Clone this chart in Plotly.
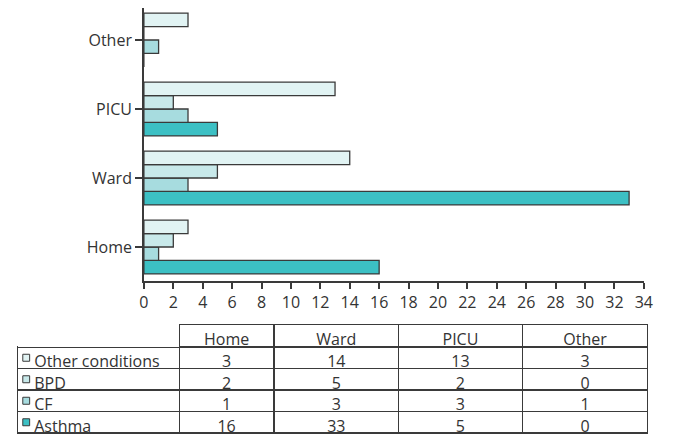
import plotly.graph_objects as go

locations = ["Home", "Ward", "PICU", "Other"]
series_names = ["Other conditions", "BPD", "CF", "Asthma"]
other_conditions = [3, 14, 13, 3]
bpd = [2, 5, 2, 0]
cf = [1, 3, 3, 1]
asthma = [16, 33, 5, 0]
x_ticks = list(range(0, 35, 2))

colors = {
    "Other conditions": "#e1f3f3",
    "BPD": "#c8e9ea",
    "CF": "#a7dcdf",
    "Asthma": "#3cc0c4",
}
values = {
    "Other conditions": other_conditions,
    "BPD": bpd,
    "CF": cf,
    "Asthma": asthma,
}

# page body has an 8px margin, so the figure is drawn at (8, 8)
W, H = 668, 428
FONT = "Open Sans"
FS = 16
INK = "#333333"
EDGE = "#3a3a3a"

fig = go.Figure()
# plotly stacks grouped horizontal bars bottom-up in trace order
for name in ["Asthma", "CF", "BPD", "Other conditions"]:
    fig.add_trace(go.Bar(
        y=locations, x=values[name], orientation="h", name=name,
        marker=dict(color=colors[name], line=dict(color=EDGE, width=1.3)),
        showlegend=False,
    ))

# table
tbl_left, tbl_right = 5, 649
tbl_top = 316.5
head_h, row_h = 22.5, 21.5
col_px = [167, 98, 129, 128, 130]
label_pad = "\u00a0" * 2
fig.add_trace(go.Table(
    domain=dict(x=[tbl_left / W, tbl_right / W], y=[0, (H - tbl_top) / H]),
    columnwidth=col_px,
    header=dict(
        values=[""] + locations,
        height=head_h,
        align="center",
        fill=dict(color="white"),
        line=dict(color=["rgba(0,0,0,0)", EDGE, EDGE, EDGE, EDGE], width=1.2),
        font=dict(family=FONT, size=FS, color=INK),
    ),
    cells=dict(
        values=[[label_pad + s for s in series_names],
                [values[s][0] for s in series_names],
                [values[s][1] for s in series_names],
                [values[s][2] for s in series_names],
                [values[s][3] for s in series_names]],
        height=row_h,
        align=["left", "center", "center", "center", "center"],
        fill=dict(color="white"),
        line=dict(color=EDGE, width=1.2),
        font=dict(family=FONT, size=FS, color=INK),
    ),
))

# legend swatches inside the table's first column
shapes = []
row_top = tbl_top + head_h
for i, s in enumerate(series_names):
    yc = row_top + row_h * i + row_h / 2
    x0 = tbl_left + 5
    shapes.append(dict(
        type="rect", xref="paper", yref="paper", layer="above",
        x0=x0 / W, x1=(x0 + 7) / W,
        y0=1 - (yc + 3.5) / H, y1=1 - (yc - 3.5) / H,
        fillcolor=colors[s], line=dict(color=EDGE, width=1),
    ))

fig.update_layout(
    width=W, height=H,
    margin=dict(l=0, r=0, t=0, b=0),
    paper_bgcolor="white", plot_bgcolor="white",
    barmode="group", bargap=0.22, bargroupgap=0,
    font=dict(family=FONT, size=FS, color=INK),
    shapes=shapes,
    xaxis=dict(
        domain=[133.7 / W, 644.3 / W], range=[0, 34],
        tickmode="array", tickvals=x_ticks,
        showline=True, linecolor=EDGE, linewidth=1.5,
        ticks="outside", ticklen=6, tickwidth=1.5, tickcolor=EDGE,
        showgrid=False, zeroline=False,
        tickfont=dict(family=FONT, size=FS, color=INK),
    ),
    yaxis=dict(
        domain=[1 - 273 / H, 1],
        range=[-0.493, 3.464],
        categoryorder="array", categoryarray=locations,
        showline=True, linecolor=EDGE, linewidth=1.5,
        ticks="outside", ticklen=7, tickwidth=1.5, tickcolor=EDGE,
        showgrid=False, zeroline=False,
        tickfont=dict(family=FONT, size=FS, color=INK),
    ),
)

fig.write_html("out.html")
